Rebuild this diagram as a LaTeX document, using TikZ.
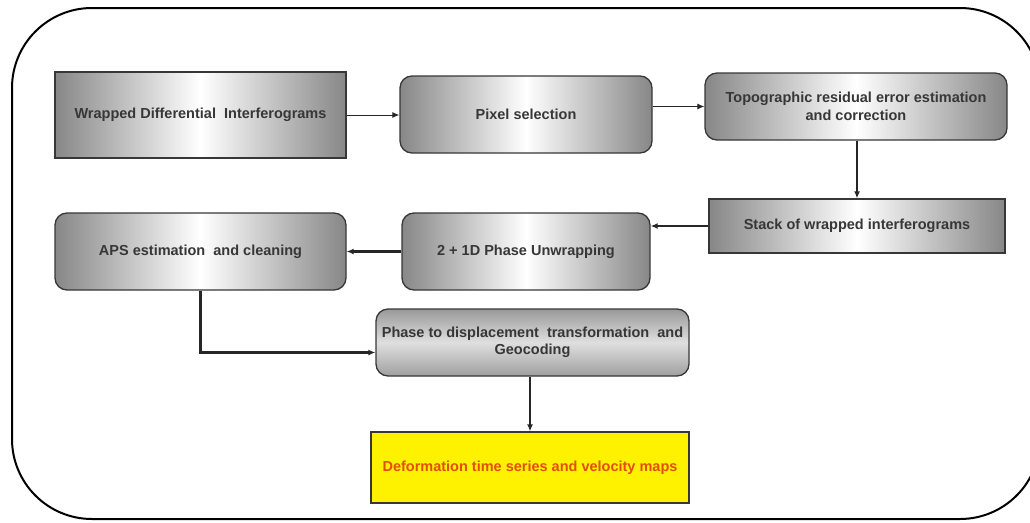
\documentclass[tikz,border=0pt]{standalone}
\usepackage{fontspec}
\setmainfont{Liberation Sans}
\usepackage{xcolor}
\usepackage{tikz}
\usetikzlibrary{arrows.meta}

\definecolor{boxgray}{RGB}{135,135,135}
\definecolor{edgegray}{RGB}{55,55,55}
\definecolor{textgray}{RGB}{55,55,55}
\definecolor{resultred}{RGB}{228,78,10}

\begin{document}
\begin{tikzpicture}[x=1pt, y=-1pt,
    >={Latex[length=7pt,width=6pt]},
    boxtext/.style={font=\bfseries\fontsize{14.5}{17.5}\selectfont, text=textgray, align=center, inner sep=0pt},
    flatbox/.style={boxtext, draw=edgegray, line width=1.3pt, left color=boxgray, right color=boxgray, middle color=white},
    roundbox/.style={flatbox, rounded corners=12pt},
    metalbox/.style={boxtext, draw=edgegray, line width=1.3pt, rounded corners=12pt, top color=gray!80, bottom color=gray!75, middle color=gray!25},
    resultbox/.style={boxtext, draw=edgegray, line width=1.3pt, fill=yellow, text=resultred},
    thinarrow/.style={->, line width=1pt, draw=black!85},
    thickarrow/.style={->, line width=2.8pt, draw=black!85}]
    \useasboundingbox (0,0) rectangle (1030,522);

    % Outer frame
    \draw[line width=2pt, rounded corners=80pt] (12,8) rectangle (1040,519);

    % First row
    \node[flatbox, minimum width=291, minimum height=86] (wrapped) at (200.5,115) {Wrapped Differential\ \ Interferograms};
    \node[roundbox, minimum width=252, minimum height=77] (pixsel) at (526,114.5) {Pixel selection};
    \node[roundbox, minimum width=302, minimum height=67] (topo) at (856,106.5) {Topographic residual error estimation\\and correction};

    % Second row
    \node[flatbox, minimum width=296, minimum height=54] (stack) at (857,226) {Stack of wrapped interferograms};
    \node[roundbox, minimum width=248, minimum height=77] (unwrap) at (526,251.5) {2 + 1D Phase Unwrapping};
    \node[roundbox, minimum width=291, minimum height=77] (aps) at (200.5,251.5) {APS estimation\ \ and cleaning};

    % Last steps
    \node[metalbox, minimum width=313, minimum height=67] (geocode) at (532.5,342.5) {Phase to displacement\ \ transformation\ \ and\\Geocoding};
    \node[resultbox, minimum width=318, minimum height=71] (result) at (530,467.5) {Deformation time series and velocity maps};

    % Connect the steps
    \draw[thinarrow] (wrapped) -- (pixsel.west |- wrapped);
    \draw[thinarrow] (pixsel.east |- topo.west) -- (topo.west);
    \draw[thickarrow] (topo.south -| stack.north) -- (stack.north);
    \draw[thickarrow] (stack.west) -- (unwrap.east |- stack.west);
    \draw[thickarrow] (unwrap.west) -- (aps.east);
    \draw[thickarrow] (aps.south) |- ([yshift=-10pt]geocode.west);
    \draw[thickarrow] (geocode.south -| result.north) -- (result.north);
\end{tikzpicture}
\end{document}
